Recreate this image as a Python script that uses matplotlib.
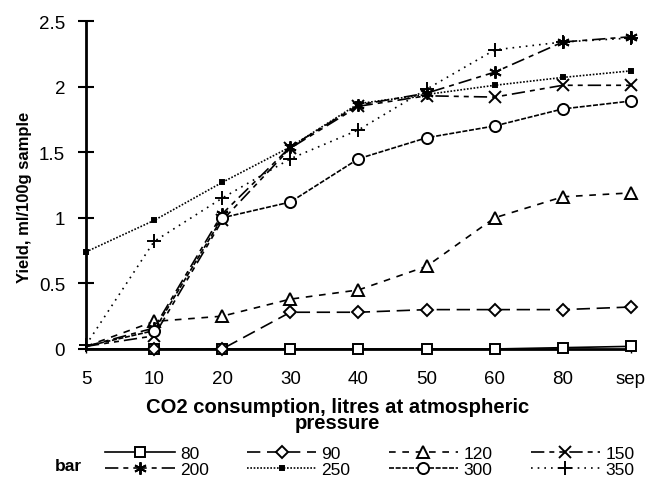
import numpy as np
import matplotlib.pyplot as plt

plt.rcParams['font.family'] = ['Liberation Sans', 'DejaVu Sans']

categories = ['5', '10', '20', '30', '40', '50', '60', '80', 'sep']

y80 = [0.0, 0.0, 0.0, 0.0, 0.0, 0.0, 0.0, 0.01, 0.02]
y90 = [0.0, 0.0, 0.0, 0.28, 0.28, 0.30, 0.30, 0.30, 0.32]
y120 = [0.02, 0.21, 0.25, 0.38, 0.45, 0.63, 1.0, 1.16, 1.19]
y150 = [0.02, 0.10, 0.98, 1.53, 1.85, 1.93, 1.92, 2.01, 2.01]
y200 = [0.02, 0.16, 1.03, 1.54, 1.86, 1.95, 2.11, 2.34, 2.38]
y250 = [0.74, 0.98, 1.27, 1.54, 1.87, 1.94, 2.01, 2.07, 2.12]
y300 = [0.02, 0.14, 1.0, 1.12, 1.45, 1.61, 1.70, 1.83, 1.89]
y350 = [0.03, 0.82, 1.15, 1.45, 1.67, 1.98, 2.28, 2.34, 2.37]

# values, label, linestyle, marker, markersize, marker on first point?
series = [
    (y80, '80', '-', 's', 7, False),
    (y90, '90', (0, (8, 4)), 'D', 6, False),
    (y120, '120', (0, (4, 4)), '^', 8, False),
    (y150, '150', (0, (8, 3, 3, 3, 3, 3)), 'x', 8, False),
    (y200, '200', (0, (8, 3, 3, 3)), (6, 2, 0), 9, False),
    (y250, '250', (0, (1, 1)), 's', 3.5, True),
    (y300, '300', (0, (3, 1)), 'o', 8, False),
    (y350, '350', (0, (1, 3)), '+', 10, True),
]

fig = plt.figure(figsize=(6.45, 4.89), dpi=100)
ax = fig.add_axes([0.1333, 0.2843, 0.8502, 0.6707])

x = np.arange(len(categories))
for vals, label, ls, mk, ms, first in series:
    filled = label == '250'
    every = None if first else list(range(1, len(vals)))
    ax.plot(x, vals, color='black', linestyle=ls, linewidth=1.2, marker=mk,
            markersize=ms, markevery=every,
            markerfacecolor='black' if filled else 'white',
            markeredgecolor='black', markeredgewidth=1.4, label=label,
            clip_on=False, zorder=3)

ax.set_xlim(0, 8.05)
ax.set_ylim(0, 2.5)
ax.set_xticks(x)
ax.set_xticklabels(categories)
ax.set_yticks([0, 0.5, 1, 1.5, 2, 2.5])
ax.set_yticklabels(['0', '0.5', '1', '1.5', '2', '2.5'])
ax.spines['top'].set_visible(False)
ax.spines['right'].set_visible(False)
ax.spines['left'].set_linewidth(2)
ax.spines['bottom'].set_linewidth(2)
ax.tick_params(axis='y', direction='inout', length=12, width=1.5, labelsize=13.5, pad=9)
ax.tick_params(axis='x', direction='out', length=3, width=1, labelsize=13.5, pad=12)

ax.set_ylabel('Yield, ml/100g sample', fontsize=12, fontweight='bold')
ax.yaxis.set_label_coords(-0.098, 0.466)
ax.set_xlabel('CO2 consumption, litres at atmospheric\npressure', fontsize=14.6,
              fontweight='bold', linespacing=0.8)
ax.xaxis.set_label_coords(0.458, -0.145)

# legend is filled column by column, so order handles to read row-wise
handles, labels = ax.get_legend_handles_labels()
order = [0, 4, 1, 5, 2, 6, 3, 7]
fig.legend([handles[i] for i in order], [labels[i] for i in order],
           loc='upper left', bbox_to_anchor=(0.163, 0.086), ncol=4, frameon=False,
           fontsize=12.5, handlelength=4.0, handletextpad=0.3, columnspacing=2.2,
           labelspacing=0.05, borderpad=0.0, borderaxespad=0.0)
fig.text(0.085, 0.045, 'bar', fontsize=12.5, fontweight='bold', va='center')

fig.savefig('out.png', dpi=100)
